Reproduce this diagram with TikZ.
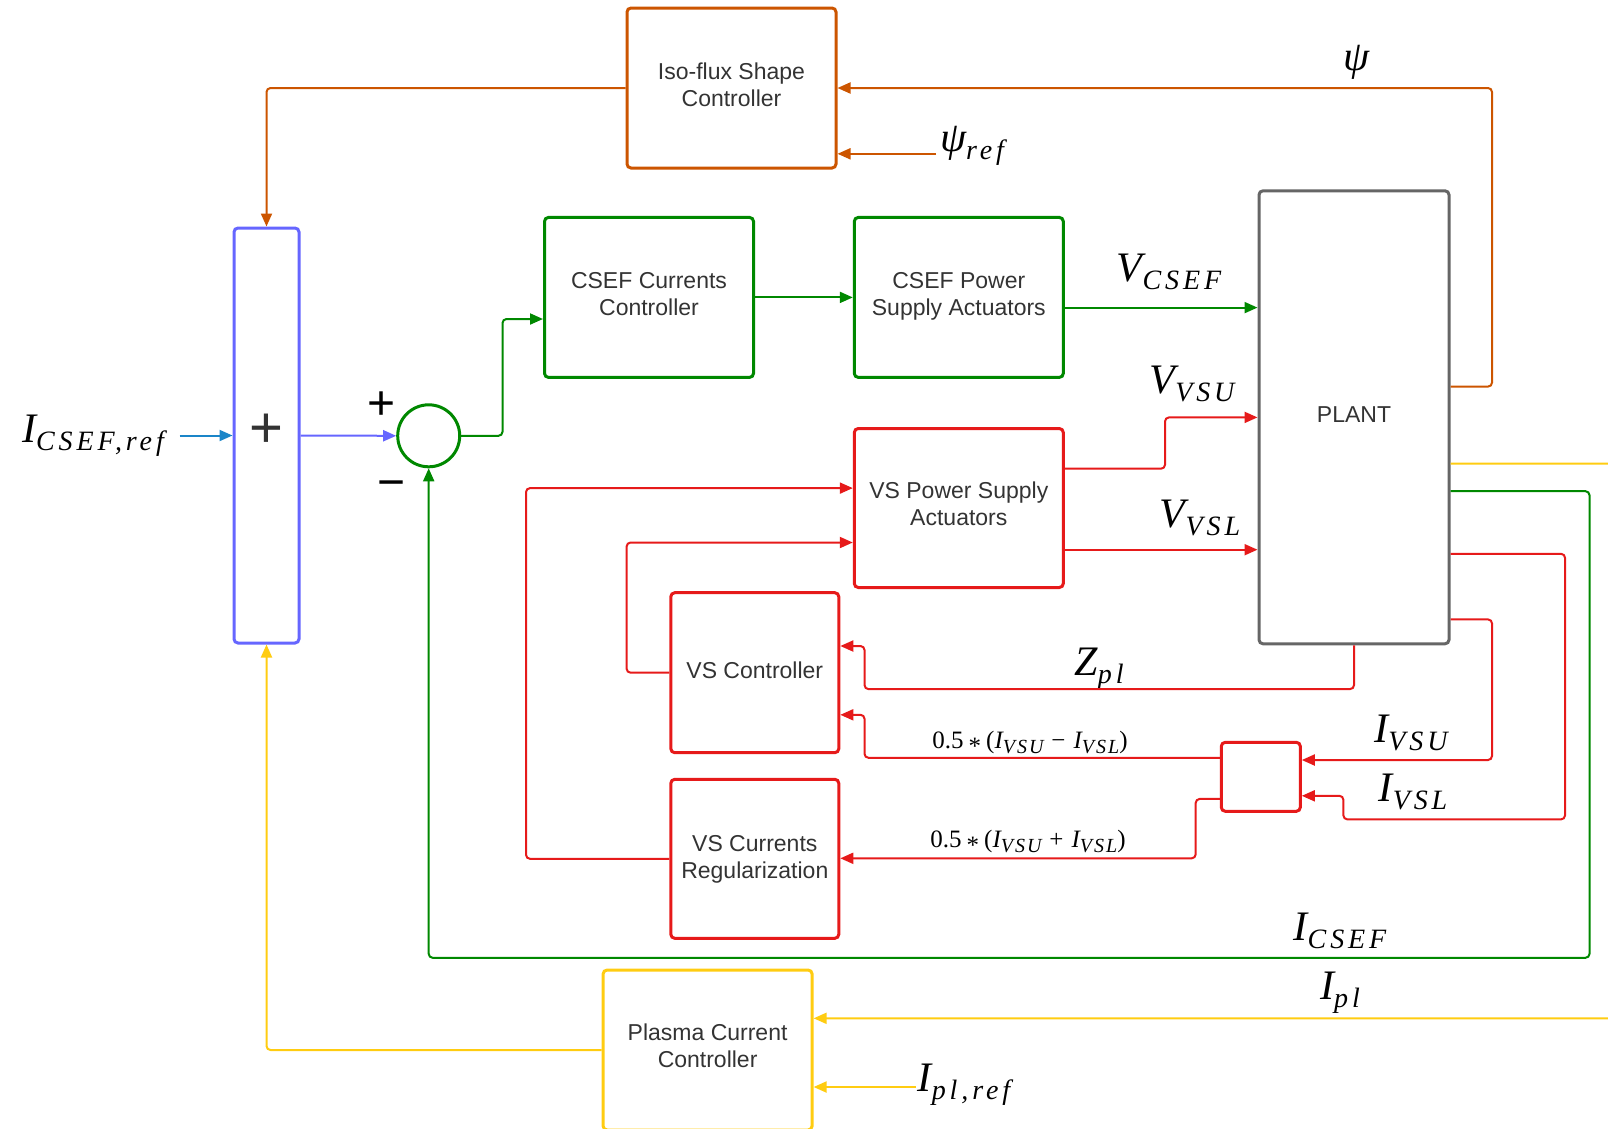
\documentclass[tikz,border=0pt]{standalone}
\usepackage{fontspec}
\setmainfont{Liberation Sans}
\newfontfamily\lbf{Liberation Serif}
\newfontfamily\lsb[LetterSpace=14]{Liberation Serif}
\newfontfamily\lsbs[LetterSpace=10]{Liberation Serif}
\usetikzlibrary{arrows.meta}

\definecolor{cOr}{RGB}{204,85,0}
\definecolor{cBl}{RGB}{102,102,255}
\definecolor{cAr}{RGB}{26,133,200}
\definecolor{cGr}{RGB}{0,136,0}
\definecolor{cRd}{RGB}{230,26,26}
\definecolor{cGy}{RGB}{102,102,102}
\definecolor{cYe}{RGB}{255,204,17}
\definecolor{cTx}{RGB}{51,51,51}

\newcommand\bv[2]{{\lbf\itshape\fontsize{42}{44}\selectfont #1\raisebox{-8pt}{\lsb\itshape\fontsize{28}{30}\selectfont #2}}}
\newcommand\sv[2]{{\itshape #1}\raisebox{-5pt}{\lsbs\itshape\fontsize{20}{21}\selectfont #2}}

\tikzset{
  blk/.style={draw, line width=3pt, rounded corners=4pt, align=center, inner sep=2pt,
    font=\fontsize{23}{26.7}\selectfont, text=cTx},
  con/.style={line width=2pt, rounded corners=4pt, -{Triangle[length=13pt,width=11pt]}},
  lab/.style={inner sep=0pt, text=black},
}

\begin{document}
\begin{tikzpicture}[x=1pt,y=-1pt]
\clip (0,0) rectangle (1608,1128);

% blocks
\node[blk, draw=cOr, minimum width=209pt, minimum height=160pt] (iso) at (731.5,88) {Iso-flux Shape\\Controller\\[-20.5pt]};
\node[blk, draw=cBl, minimum width=65pt, minimum height=415pt] (sum) at (266.5,435.5) {};
\node[text=cTx, inner sep=0pt, font=\fontsize{58}{58}\selectfont] (plus) at (266.5,431) {+};
\node[draw=cGr, line width=3pt, circle, minimum size=62pt, inner sep=0pt] (circ) at (428.7,435.8) {};
\node[lab, font=\fontsize{48}{48}\selectfont] (pl1) at (381.5,406) {+};
\node[lab, font=\fontsize{48}{48}\selectfont] (mi1) at (391.7,490) {−};
\node[blk, draw=cGr, minimum width=209pt, minimum height=160pt] (ccc) at (649,297.4) {CSEF Currents\\Controller\\[-20.5pt]};
\node[blk, draw=cGr, minimum width=209pt, minimum height=160pt] (cpsa) at (958.8,297.4) {CSEF Power\\Supply Actuators\\[-20.5pt]};
\node[blk, draw=cGy, minimum width=190pt, minimum height=453pt] (plant) at (1354,417.3) {PLANT\\[-20.5pt]};
\node[blk, draw=cRd, minimum width=209pt, minimum height=159pt] (vpsa) at (958.8,508) {VS Power Supply\\Actuators\\[-18.5pt]};
\node[blk, draw=cRd, minimum width=168pt, minimum height=160pt] (vsc) at (754.8,672.7) {VS Controller\\[-22.5pt]};
\node[blk, draw=cRd, minimum width=168pt, minimum height=159pt] (vcr) at (754.8,858.8) {VS Currents\\Regularization\\[-22.5pt]};
\node[blk, draw=cRd, minimum width=79pt, minimum height=69pt] (small) at (1260.8,776.8) {};
\node[blk, draw=cYe, minimum width=209pt, minimum height=160pt] (pcc) at (707.6,1050) {Plasma Current\\Controller\\[-18.5pt]};

% labels
\node[lab] (lpsi) at (1357,62) {\bv{ψ}{}};
\node[lab] (lpsiref) at (972,146) {\bv{ψ}{ref}};
\node[lab] (lvcsef) at (1169,272) {\bv{V}{CSEF}};
\node[lab] (lvvsu) at (1192,384) {\bv{V}{VSU}};
\node[lab] (lvvsl) at (1200,518) {\bv{V}{VSL}};
\node[lab] (lzpl) at (1099,669) {\bv{Z}{pl}};
\node[lab] (livsu) at (1411,733) {\bv{I}{VSU}};
\node[lab] (livsl) at (1413,792) {\bv{I}{VSL}};
\node[lab] (licsef) at (1340,931) {\bv{I}{CSEF}};
\node[lab] (lipl) at (1340,993) {\bv{I}{pl}};
\node[lab] (liplref) at (964,1085) {\bv{I}{pl,ref}};
\node[lab] (licref) at (93,436) {\bv{I}{CSEF,ref}};
\node[lab, font=\lbf\fontsize{25}{27}\selectfont] (ldiff) at (1030,743)
  {0.5\hspace{5pt}\raisebox{-6pt}{*}\hspace{5pt}(\sv{I}{VSU}\hspace{8pt}−\hspace{8pt}\sv{I}{VSL})};
\node[lab, font=\lbf\fontsize{25}{27}\selectfont] (lsum) at (1028,842)
  {0.5\hspace{5pt}\raisebox{-6pt}{*}\hspace{5pt}(\sv{I}{VSU}\hspace{8pt}+\hspace{8pt}\sv{I}{VSL})};

% free ends
\coordinate (psirefend) at (936,153.8);
\coordinate (icrefend) at (179.5,435.5);
\coordinate (iplrefend) at (915.8,1087);

% orange
\draw[con, cOr] (plant.east |- 0,386.6) -| (1492,88) -- (iso.east);
\draw[con, cOr] (psirefend) -- (iso.east |- psirefend);
\draw[con, cOr] (iso.west) -| (sum.north);
% blue
\draw[con, cAr] (icrefend) -- (sum.west);
\draw[con, cBl] (sum.east) -- (circ.west);
% green
\draw[con, cGr] (circ.east) -| (502.5,319) -- (ccc.west |- 0,319);
\draw[con, cGr] (ccc.east) -- (cpsa.west);
\draw[con, cGr] (cpsa.east |- 0,307.6) -- (plant.west |- 0,307.6);
\draw[con, cGr] (plant.east |- 0,491.2) -| (1589.5,957.8) -| (circ.south);
% red
\draw[con, cRd] (vpsa.east |- 0,468.7) -| (1165,417.4) -- (plant.west |- 0,417.4);
\draw[con, cRd] (vpsa.east |- 0,549.7) -- (plant.west |- 0,549.7);
\draw[con, cRd] (vcr.west) -| (526,488.1) -- (vpsa.west |- 0,488.1);
\draw[con, cRd] (vsc.west) -| (626.6,542.5) -- (vpsa.west |- 0,542.5);
\draw[con, cRd] (plant.south) |- (864.5,689.1) |- (vsc.east |- 0,646);
\draw[con, cRd] (small.west |- 0,757.8) -| (864.5,714.8) -- (vsc.east |- 0,714.8);
\draw[con, cRd] (small.west |- 0,798.9) -| (1195.7,858.3) -- (vcr.east |- 0,858.3);
\draw[con, cRd] (plant.east |- 0,619.4) -| (1492,760) -- (small.east |- 0,760);
\draw[con, cRd] (plant.east |- 0,553.8) -| (1565,819.4) -| (1343.4,795.8) -- (small.east |- 0,795.8);
% yellow
\draw[con, cYe] (plant.east |- 0,463.5) -| (1640,1018.3) -- (pcc.east |- 0,1018.3);
\draw[con, cYe] (iplrefend) -- (pcc.east |- iplrefend);
\draw[con, cYe] (pcc.west) -| (sum.south);
\end{tikzpicture}
\end{document}
